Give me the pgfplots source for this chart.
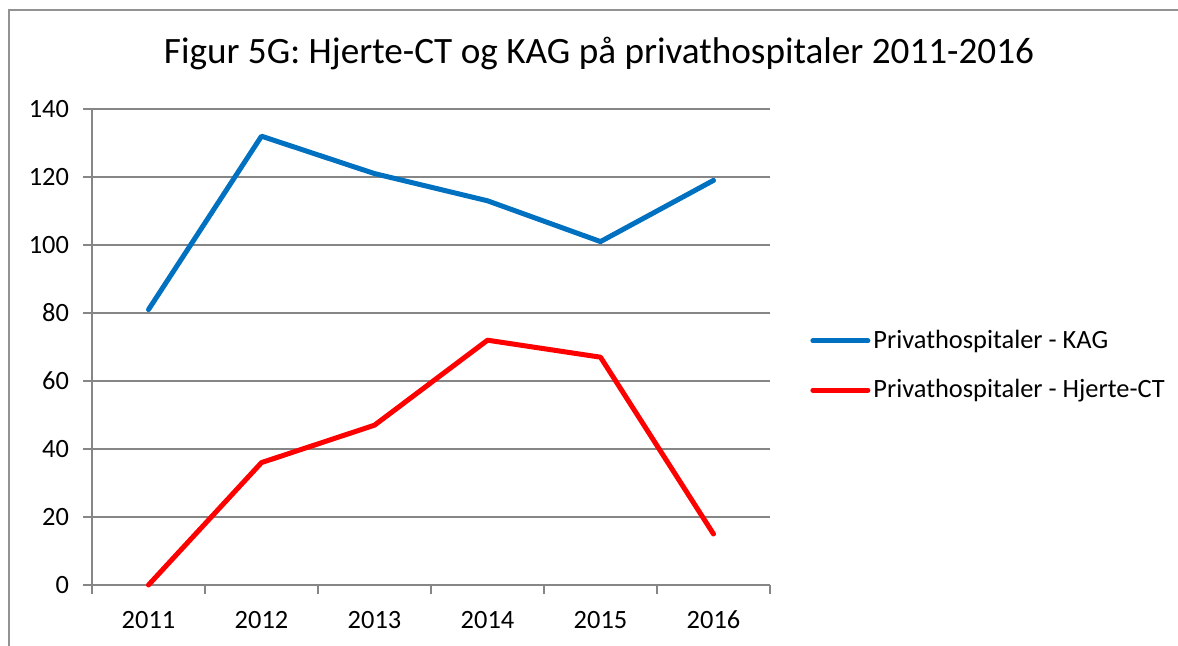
\documentclass[border=0pt]{standalone}
\usepackage{pgfplots}
\pgfplotsset{compat=1.18}
\usepackage{fontspec}
\setmainfont{Carlito}
\definecolor{kagblue}{RGB}{0,112,192}
\definecolor{gridgray}{RGB}{134,134,134}
\begin{document}
\begin{tikzpicture}
\path[use as bounding box] (0,0) rectangle (589pt,323pt);
\draw[gridgray!90, line width=0.9pt] (4.5pt,0) -- (4.5pt,318pt) -- (589pt,318pt);
\node[font=\fontsize{18.6}{22}\selectfont, anchor=base] at (299.5pt,291pt) {Figur 5G: Hjerte-CT og KAG på privathospitaler 2011-2016};
\begin{axis}[
  at={(46pt,30.5pt)}, anchor=south west,
  scale only axis, width=339pt, height=238pt,
  xmin=-0.5, xmax=5.5, ymin=0, ymax=140,
  xtick={0,1,2,3,4,5},
  xticklabels={2011,2012,2013,2014,2015,2016},
  minor xtick={-0.5,0.5,1.5,2.5,3.5,4.5,5.5},
  ytick={0,20,...,140},
  axis x line=bottom, axis y line=left,
  axis line style={gridgray, line width=0.8pt, -},
  ymajorgrids, major grid style={gridgray, line width=0.8pt},
  tick align=outside,
  major tick length=4.5pt, minor tick length=4.5pt,
  x tick style={draw=none},
  minor x tick style={draw=gridgray, line width=0.8pt},
  y tick style={gridgray, line width=0.8pt},
  ticklabel style={font=\fontsize{13.2}{15}\selectfont},
  /pgf/number format/assume math mode=true,
  yticklabel style={xshift=-3.5pt},
  xticklabel style={yshift=-5pt},
  legend style={at={(1.059,0.461)}, anchor=west, draw=none, fill=none,
    font=\fontsize{13.2}{15}\selectfont, row sep=10pt, inner sep=0pt,
    nodes={inner xsep=1.5pt},
    /tikz/every even column/.append style={column sep=0pt}},
  legend cell align=left,
  legend image code/.code={\draw[#1, line cap=round] (0pt,0pt) -- (27.5pt,0pt);},
  clip=false,
]
\addplot[kagblue, line width=2.5pt, line cap=round, line join=round] coordinates {
  (0,81) (1,132) (2,121) (3,113) (4,101) (5,119)};
\addlegendentry{Privathospitaler - KAG}
\addplot[red, line width=2.5pt, line cap=round, line join=round] coordinates {
  (0,0) (1,36) (2,47) (3,72) (4,67) (5,15)};
\addlegendentry{Privathospitaler - Hjerte-CT}
\end{axis}
\end{tikzpicture}
\end{document}
